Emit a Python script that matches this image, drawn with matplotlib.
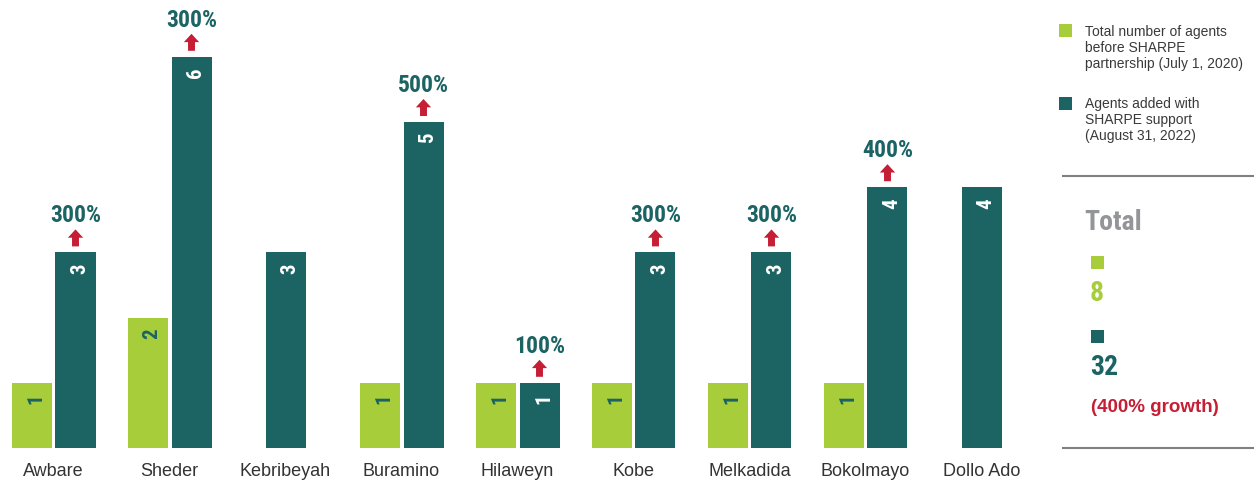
import matplotlib
matplotlib.use("Agg")
import matplotlib.pyplot as plt
from matplotlib import font_manager
from matplotlib.patches import Rectangle
from matplotlib.lines import Line2D
import numpy as np

# ---------------- data ----------------
regions = ["Awbare", "Sheder", "Kebribeyah", "Buramino", "Hilaweyn",
           "Kobe", "Melkadida", "Bokolmayo", "Dollo Ado"]
agents_before = [1, 2, 0, 1, 1, 1, 1, 1, 0]
agents_added = [3, 6, 3, 5, 1, 3, 3, 4, 4]
legend_before = ["Total number of agents", "before SHARPE", "partnership (July 1, 2020)"]
legend_added = ["Agents added with", "SHARPE support", "(August 31, 2022)"]

GREEN = "#a7cd3a"
TEAL = "#1c6363"
RED = "#c61e34"
GREY_TXT = "#3a3a3a"
TOTAL_GREY = "#939598"

names = {f.name for f in font_manager.fontManager.ttflist}
NARROW = "Roboto Condensed" if "Roboto Condensed" in names else "Liberation Sans"
REG = "Liberation Sans"

W, H = 1254, 486
fig = plt.figure(figsize=(W / 100, H / 100), dpi=100)

# main chart axes (pixel-based placement)
base_px = 448
unit_px = 65.2
grp_px = 116.0
first_px = 53.5
right_px = 1045
ax = fig.add_axes([0, (H - base_px) / H, right_px / W, base_px / H])
ax.set_ylim(0, base_px / unit_px)
ax.set_xlim(-first_px / grp_px, (right_px - first_px) / grp_px)

x = np.arange(len(regions))
bw = 40 / grp_px
off = 22 / grp_px
before = np.array(agents_before)
added = np.array(agents_added)
xg = x - off
xt = np.where(before > 0, x + off, x)

ax.bar(xg[before > 0], before[before > 0], width=bw, color=GREEN, linewidth=0)
ax.bar(xt, added, width=bw, color=TEAL, linewidth=0)

dy_lbl = 16 / unit_px
dx_lbl = 4 / grp_px
for i in range(len(regions)):
    if before[i] > 0:
        ax.text(xg[i] + dx_lbl, before[i] - dy_lbl, str(before[i]), rotation=90,
                ha="center", va="center", color=TEAL, fontsize=15,
                fontweight="bold", family=NARROW)
    ax.text(xt[i] + dx_lbl, added[i] - dy_lbl, str(added[i]), rotation=90,
            ha="center", va="center", color="white", fontsize=15,
            fontweight="bold", family=NARROW)
    if before[i] > 0:
        pct = int(round(added[i] / before[i] * 100))
        ax.annotate("", xy=(xt[i], added[i] + 23 / unit_px),
                    xytext=(xt[i], added[i] + 6 / unit_px),
                    arrowprops=dict(arrowstyle="simple,head_length=0.6,head_width=1.1,tail_width=0.5",
                                    color=RED, mutation_scale=10, shrinkA=0, shrinkB=0, lw=0))
        ax.text(xt[i], added[i] + 30 / unit_px, f"{pct}%", ha="center", va="baseline",
                color=TEAL, fontsize=17, fontweight="bold", family=NARROW)

ax.set_xticks(x)
ax.set_xticklabels(regions, fontsize=13, color="#333333", family=REG)
ax.tick_params(axis="x", length=0, pad=11)
ax.set_yticks([])
for s in ax.spines.values():
    s.set_visible(False)

# overlay axes in pixel coordinates for legend / totals panel
ov = fig.add_axes([0, 0, 1, 1], facecolor="none")
ov.set_xlim(0, W)
ov.set_ylim(H, 0)
ov.axis("off")

def square(x0, y0, color):
    ov.add_patch(Rectangle((x0, y0), 13, 13, color=color, lw=0))

square(1059, 24, GREEN)
for k, line in enumerate(legend_before):
    ov.text(1085, 36 + 16 * k, line, fontsize=10, color=GREY_TXT, family=REG, va="baseline")
square(1059, 97, TEAL)
for k, line in enumerate(legend_added):
    ov.text(1085, 108 + 16 * k, line, fontsize=10, color=GREY_TXT, family=REG, va="baseline")

ov.add_line(Line2D([1063, W], [176, 176], color="#808080", lw=1.5))
ov.add_line(Line2D([1063, W], [448, 448], color="#808080", lw=1.5))

total_before = int(before.sum())
total_added = int(added.sum())
growth = int(round(total_added / total_before * 100))
ov.text(1084, 230, "Total", fontsize=20, fontweight="bold", color=TOTAL_GREY,
        family=NARROW, va="baseline")
square(1091, 256, GREEN)
ov.text(1090, 301, str(total_before), fontsize=20, fontweight="bold", color=GREEN,
        family=NARROW, va="baseline")
square(1091, 330, TEAL)
ov.text(1090, 375, str(total_added), fontsize=20, fontweight="bold", color=TEAL,
        family=NARROW, va="baseline")
ov.text(1091, 412, f"({growth}% growth)", fontsize=13.5, fontweight="bold", color=RED,
        family=REG, va="baseline")

fig.savefig("out.png", dpi=100)
